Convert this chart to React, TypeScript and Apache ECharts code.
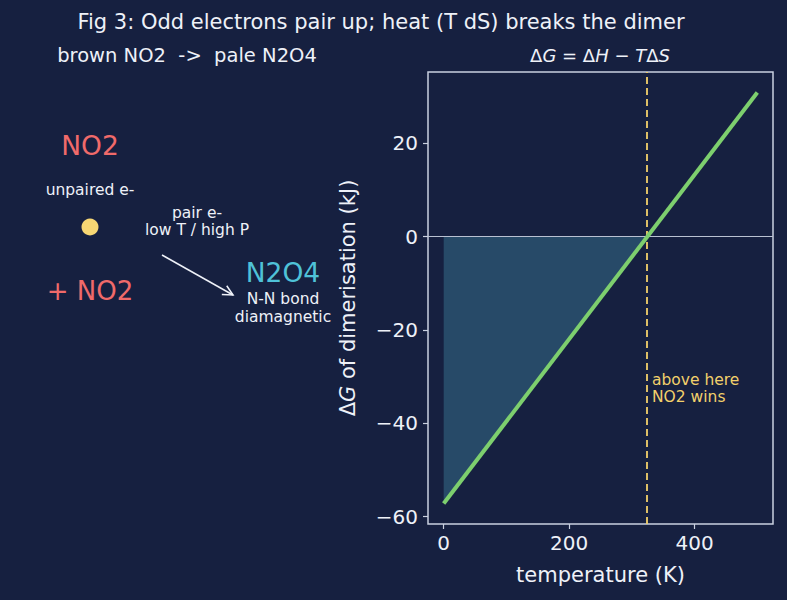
import React, { useEffect, useRef } from "react";
import * as echarts from "echarts";

const TEMPS_K = [0, 500];
const DELTA_G_KJ = [-57.2, 30.9];
const CROSS_T = 324;
const FILL_T = [0, 324];
const FILL_G = [-57.2, 0];
const X_TICKS = [0, 200, 400];
const Y_TICKS = [-60, -40, -20, 0, 20];

const BG = "#162040";
const FG = "#eef1f8";
const FRAME = "#c9d0e0";
const FONT = "DejaVu Sans";

const fmt = (v: number) => (v < 0 ? "\u2212" + Math.abs(v) : String(v));

export default function App() {
  const ref = useRef<HTMLDivElement>(null);
  useEffect(() => {
    if (!ref.current) return;
    const chart = echarts.init(ref.current, null, { renderer: "svg" });
    const ax0 = { x: 162, y: 255 };
    const ax1 = { x: 233, y: 295 };
    const dx = ax1.x - ax0.x, dy = ax1.y - ax0.y;
    const L = Math.hypot(dx, dy);
    const ux = dx / L, uy = dy / L, px = -uy, py = ux;
    const hl = 10, hw = 5;
    const bx = ax1.x - hl * ux, by = ax1.y - hl * uy;
    const math = {
      n: { font: `18px "${FONT}"`, fill: FG },
      i: { font: `italic 18px "${FONT}"`, fill: FG },
    };
    chart.setOption({
      animation: false,
      backgroundColor: BG,
      textStyle: { fontFamily: FONT },
      grid: {
        left: 428, right: 14, top: 72, bottom: 76,
        show: true, borderColor: FRAME, borderWidth: 1.5, backgroundColor: "transparent",
      },
      xAxis: {
        type: "value", min: -25, max: 525,
        name: "temperature (K)", nameLocation: "middle", nameGap: 40,
        nameTextStyle: { color: FG, fontSize: 21, fontFamily: FONT },
        splitLine: { show: false },
        axisLine: { show: false, onZero: false },
        axisTick: { show: true, customValues: X_TICKS, length: 5, lineStyle: { color: FRAME, width: 1.2 } },
        axisLabel: { customValues: X_TICKS, color: FG, fontSize: 20, fontFamily: FONT, margin: 9, formatter: fmt },
      },
      yAxis: {
        type: "value", min: -61.6, max: 35.3,
        name: "{n|Δ}{i|G}{n| of dimerisation (kJ)}", nameLocation: "middle", nameGap: 70, nameRotate: 90,
        nameTextStyle: {
          color: FG, fontSize: 21, fontFamily: FONT,
          rich: {
            n: { fontFamily: FONT, fontSize: 21, color: FG },
            i: { fontFamily: FONT, fontSize: 21, color: FG, fontStyle: "italic" },
          },
        },
        splitLine: { show: false },
        axisLine: { show: false, onZero: false },
        axisTick: { show: true, customValues: Y_TICKS, length: 5, lineStyle: { color: FRAME, width: 1.2 } },
        axisLabel: { customValues: Y_TICKS, color: FG, fontSize: 20, fontFamily: FONT, margin: 10, formatter: fmt },
      },
      series: [
        {
          type: "line",
          data: FILL_T.map((t, i) => [t, FILL_G[i]]),
          symbol: "none",
          lineStyle: { width: 0, opacity: 0 },
          areaStyle: { color: "#274a68", opacity: 1, origin: 0 },
          z: 1,
          silent: true,
        },
        {
          type: "line",
          data: TEMPS_K.map((t, i) => [t, DELTA_G_KJ[i]]),
          symbol: "none",
          lineStyle: { color: "#7dcf6e", width: 4 },
          z: 5,
          markLine: {
            silent: true, symbol: "none", label: { show: false },
            data: [
              { yAxis: 0, lineStyle: { color: "#b9c1d2", width: 1.2, type: "solid" } },
              { xAxis: CROSS_T, lineStyle: { color: "#f2d06b", width: 1.8, type: [7, 4] } },
            ],
          },
        },
      ],
      graphic: [
        { type: "text", x: 381, y: 22, style: { text: "Fig 3: Odd electrons pair up; heat (T dS) breaks the dimer", fill: FG, font: `21px "${FONT}"`, align: "center", verticalAlign: "middle" } },
        { type: "text", x: 187, y: 55, style: { text: "brown NO2  ->  pale N2O4", fill: FG, font: `19.5px "${FONT}"`, align: "center", verticalAlign: "middle" } },
        { type: "text", x: 600, y: 55, style: { text: "{n|Δ}{i|G}{n| = Δ}{i|H}{n| − }{i|T}{n|Δ}{i|S}", rich: math, align: "center", verticalAlign: "middle" } },
        { type: "text", x: 90, y: 145, style: { text: "NO2", fill: "#f06a6a", font: `26.5px "${FONT}"`, align: "center", verticalAlign: "middle" } },
        { type: "text", x: 90, y: 190, style: { text: "unpaired e-", fill: FG, font: `15.5px "${FONT}"`, align: "center", verticalAlign: "middle" } },
        { type: "circle", shape: { cx: 90, cy: 227, r: 8.5 }, style: { fill: "#f7d774" } },
        { type: "text", x: 90, y: 291, style: { text: "+ NO2", fill: "#f06a6a", font: `26px "${FONT}"`, align: "center", verticalAlign: "middle" } },
        { type: "text", x: 197, y: 213, style: { text: "pair e-", fill: FG, font: `15.5px "${FONT}"`, align: "center", verticalAlign: "middle" } },
        { type: "text", x: 197, y: 230, style: { text: "low T / high P", fill: FG, font: `15.5px "${FONT}"`, align: "center", verticalAlign: "middle" } },
        { type: "line", shape: { x1: ax0.x, y1: ax0.y, x2: ax1.x, y2: ax1.y }, style: { stroke: FG, lineWidth: 1.5 } },
        { type: "polyline", shape: { points: [[bx + hw * px, by + hw * py], [ax1.x, ax1.y], [bx - hw * px, by - hw * py]] }, style: { stroke: FG, lineWidth: 1.5, fill: "none" } },
        { type: "text", x: 283, y: 272, style: { text: "N2O4", fill: "#4fc2d8", font: `26.5px "${FONT}"`, align: "center", verticalAlign: "middle" } },
        { type: "text", x: 283, y: 299, style: { text: "N-N bond", fill: FG, font: `15.5px "${FONT}"`, align: "center", verticalAlign: "middle" } },
        { type: "text", x: 283, y: 317, style: { text: "diamagnetic", fill: FG, font: `15.5px "${FONT}"`, align: "center", verticalAlign: "middle" } },
        { type: "text", x: 652, y: 380, style: { text: "above here", fill: "#f2d06b", font: `15.5px "${FONT}"`, align: "left", verticalAlign: "middle" } },
        { type: "text", x: 652, y: 397, style: { text: "NO2 wins", fill: "#f2d06b", font: `15.5px "${FONT}"`, align: "left", verticalAlign: "middle" } },
      ],
    });
    return () => chart.dispose();
  }, []);
  return <div ref={ref} style={{ width: 787, height: 600, position: "fixed", left: 0, top: 0 }} />;
}
